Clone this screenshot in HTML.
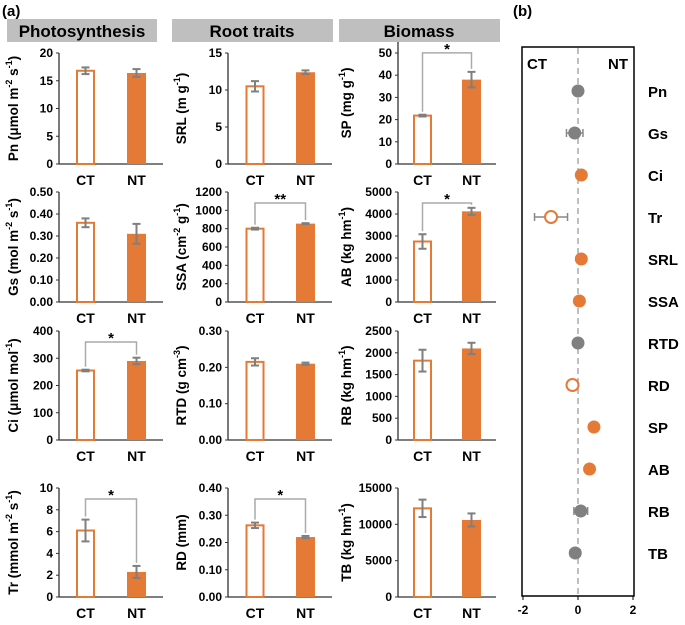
<!DOCTYPE html>
<html><head><meta charset="utf-8"><style>
body{margin:0;background:#fff;}
svg text{font-family:"Liberation Sans",Arial,sans-serif;font-weight:bold;}
</style></head><body>
<svg id="fig" width="685" height="620" viewBox="0 0 685 620" xmlns="http://www.w3.org/2000/svg">
<text x="2" y="16" font-size="15" fill="#000">(a)</text>
<text x="513" y="16" font-size="15" fill="#000">(b)</text>
<rect x="7" y="19" width="150" height="23" fill="#bfbfbf"/>
<text x="82" y="37" font-size="17" text-anchor="middle">Photosynthesis</text>
<rect x="172" y="19" width="161" height="23" fill="#bfbfbf"/>
<text x="252" y="37" font-size="17" text-anchor="middle">Root traits</text>
<rect x="339" y="19" width="161" height="23" fill="#bfbfbf"/>
<text x="419" y="37" font-size="17" text-anchor="middle">Biomass</text>
<g id="bars"></g>
<g id="forest"></g>
</svg>
<script>
// Bar chart data
const traitNames = ["Pn","SRL","SP","Gs","SSA","AB","Ci","RTD","RB","Tr","RD","TB"];
const ctValues = [16.8,10.5,21.8,0.36,800,2750,255,0.215,1820,6.1,0.263,12200];
const ctErrors = [0.6,0.7,0.4,0.02,10,330,3,0.01,250,1.0,0.01,1200];
const ntValues = [16.4,12.4,38,0.31,855,4120,290,0.21,2100,2.3,0.22,10600];
const ntErrors = [0.7,0.25,3.5,0.045,5,160,12,0.003,130,0.55,0.004,900];
const axisMax = [20,15,55,0.5,1200,5000,400,0.3,2500,10,0.4,15000];
const tickStep = [5,5,10,0.1,200,1000,100,0.1,500,2,0.1,5000];
const tickMaxVal = [20,15,50,0.5,1200,5000,400,0.3,2500,10,0.4,15000];
const tickDecimals = [0,0,0,2,0,0,0,2,0,0,2,0];
const sigMarks = ["","","*","","**","*","*","","","*","*",""];
const yTitles = [
 ["Pn (μmol m","-2"," s","-1",")"],["SRL (m g","-1",")"],["SP (mg g","-1",")"],
 ["Gs (mol m","-2"," s","-1",")"],["SSA (cm","-2"," g","-1",")"],["AB (kg hm","-1",")"],
 ["Ci (μmol mol","-1",")"],["RTD (g cm","-3",")"],["RB (kg hm","-1",")"],
 ["Tr (mmol m","-2"," s","-1",")"],["RD (mm)"],["TB (kg hm","-1",")"]];
// Forest plot data
const forestLabels = ["Pn","Gs","Ci","Tr","SRL","SSA","RTD","RD","SP","AB","RB","TB"];
const forestValues = [0,-0.12,0.12,-0.98,0.12,0.05,0,-0.2,0.58,0.42,0.1,-0.1];
const forestErrors = [0.05,0.3,0.05,0.6,0.05,0.05,0.05,0.05,0.07,0.12,0.25,0.18];
const forestSig = [0,0,1,1,1,1,0,1,1,1,0,0];
const forestOpen = [0,0,0,1,0,0,0,1,0,0,0,0];
const forestTicks = [-2,0,2];

const NS="http://www.w3.org/2000/svg";
function mk(tag,attrs,parent){const e=document.createElementNS(NS,tag);for(const k in attrs)e.setAttribute(k,attrs[k]);parent.appendChild(e);return e;}
const ORANGE="#e57a36", GRAY="#808080";
const colAxisX=[59,228,398], colRight=[163,332,496];
const colCT=[85.5,255,422.5], colNT=[136.5,305.5,471.5];
const rowZero=[164,302,440,597], rowTopTick=[53,192,331,488];
const colTitleX=[13,181,346];
const bars=document.getElementById('bars');
for(let i=0;i<traitNames.length;i++){
  const c=i%3, r=Math.floor(i/3);
  const z=rowZero[r];
  const pxPer=(z-rowTopTick[r])/tickMaxVal[i];
  const y=v=>z-v*pxPer;
  const g=mk('g',{},bars);
  
  
  const ax=colAxisX[c];
  const top=y(axisMax[i]);
  const yl=mk('line',{x1:ax,y1:top,x2:ax,y2:z,stroke:'#333','stroke-width':1.3},g);
  
  const xl=mk('line',{x1:ax,y1:z,x2:colRight[c],y2:z,stroke:'#333','stroke-width':1.3},g);
  
  for(let v=0;v<=tickMaxVal[i]+1e-9;v+=tickStep[i]){
    const ty=y(v);
    mk('line',{x1:ax-3,y1:ty,x2:ax,y2:ty,stroke:'#333','stroke-width':1},g);
    const t=mk('text',{x:ax-6,y:ty+4,'font-size':12,'text-anchor':'end'},g);
    
    t.textContent=v.toFixed(tickDecimals[i]);
  }
  // bars
  const bw=19;
  const b1=mk('rect',{x:colCT[c]-bw/2+1,y:y(ctValues[i]),width:bw-2,height:z-y(ctValues[i]),fill:'#fff',stroke:ORANGE,'stroke-width':2},g);
  
  const b2=mk('rect',{x:colNT[c]-bw/2,y:y(ntValues[i]),width:bw,height:z-y(ntValues[i]),fill:ORANGE},g);
  
  [[colCT[c],ctValues[i],ctErrors[i]],[colNT[c],ntValues[i],ntErrors[i]]].forEach(([cx,v,e])=>{
    const eg=mk('g',{stroke:'#7f7f7f','stroke-width':2},g);
    
    mk('line',{x1:cx,y1:y(v+e),x2:cx,y2:y(v-e)},eg);
    mk('line',{x1:cx-4,y1:y(v+e),x2:cx+4,y2:y(v+e)},eg);
    mk('line',{x1:cx-4,y1:y(v-e),x2:cx+4,y2:y(v-e)},eg);
  });
  [['CT',colCT[c]],['NT',colNT[c]]].forEach(([s,cx])=>{
    const t=mk('text',{x:cx,y:z+21,'font-size':14,'text-anchor':'middle'},g);
    
    t.textContent=s;
  });
  if(sigMarks[i]){
    const by=top+11;
    const p=mk('polyline',{points:`${colCT[c]},${y(ctValues[i]+ctErrors[i])-3} ${colCT[c]},${by} ${colNT[c]},${by} ${colNT[c]},${y(ntValues[i]+ntErrors[i])-3}`,fill:'none',stroke:'#aaa','stroke-width':1.5},g);
    
    const st=mk('text',{x:(colCT[c]+colNT[c])/2,y:by+1,'font-size':15,'text-anchor':'middle'},g);
    
    st.textContent=sigMarks[i];
  }
  // y title
  const cy=(top+z)/2;
  const tt=mk('text',{x:0,y:0,'font-size':13.5,'text-anchor':'middle',transform:`translate(${colTitleX[c]+5},${cy}) rotate(-90)`},g);
  
  const parts=yTitles[i];
  parts.forEach((p,k)=>{
    const ts=mk('tspan',{},tt);
    if(k%2===1){ts.setAttribute('font-size','9');ts.setAttribute('dy','-6');}
    else if(k>0){ts.setAttribute('dy','6');}
    ts.textContent=p;
  });
}
// Forest plot
const fg=document.getElementById('forest');
const fx=v=>578+v*27.5;
const fy=k=>91+k*42.0;
const box=mk('rect',{x:522,y:47,width:112,height:549,fill:'none',stroke:'#000','stroke-width':1.5},fg);

const dl=mk('line',{x1:fx(0),y1:48,x2:fx(0),y2:596,stroke:'#aaa','stroke-width':1.5,'stroke-dasharray':'6,4'},fg);

const ctl=mk('text',{x:527,y:69,'font-size':15},fg);ctl.textContent='CT';
const ntl=mk('text',{x:628,y:69,'font-size':15,'text-anchor':'end'},fg);ntl.textContent='NT';
forestTicks.forEach(v=>{
  mk('line',{x1:fx(v),y1:596,x2:fx(v),y2:600,stroke:'#000'},fg);
  const t=mk('text',{x:fx(v),y:614,'font-size':12,'text-anchor':'middle'},fg);
  
  t.textContent=v;
});
for(let k=0;k<forestLabels.length;k++){
  const g=mk('g',{},fg);
  
  
  const v=forestValues[k],e=forestErrors[k],yy=fy(k);
  const col=forestSig[k]?ORANGE:GRAY;
  mk('line',{x1:fx(v-e),y1:yy,x2:fx(v+e),y2:yy,stroke:'#888','stroke-width':1.5},g);
  mk('line',{x1:fx(v-e),y1:yy-4,x2:fx(v-e),y2:yy+4,stroke:'#888','stroke-width':1.5},g);
  mk('line',{x1:fx(v+e),y1:yy-4,x2:fx(v+e),y2:yy+4,stroke:'#888','stroke-width':1.5},g);
  if(forestOpen[k]) mk('circle',{cx:fx(v),cy:yy,r:6,fill:'#fff',stroke:col,'stroke-width':2},g);
  else mk('circle',{cx:fx(v),cy:yy,r:6.5,fill:col},g);
  const t=mk('text',{x:648,y:yy+6,'font-size':15},g);
  
  t.textContent=forestLabels[k];
}
</script>
</body></html>
